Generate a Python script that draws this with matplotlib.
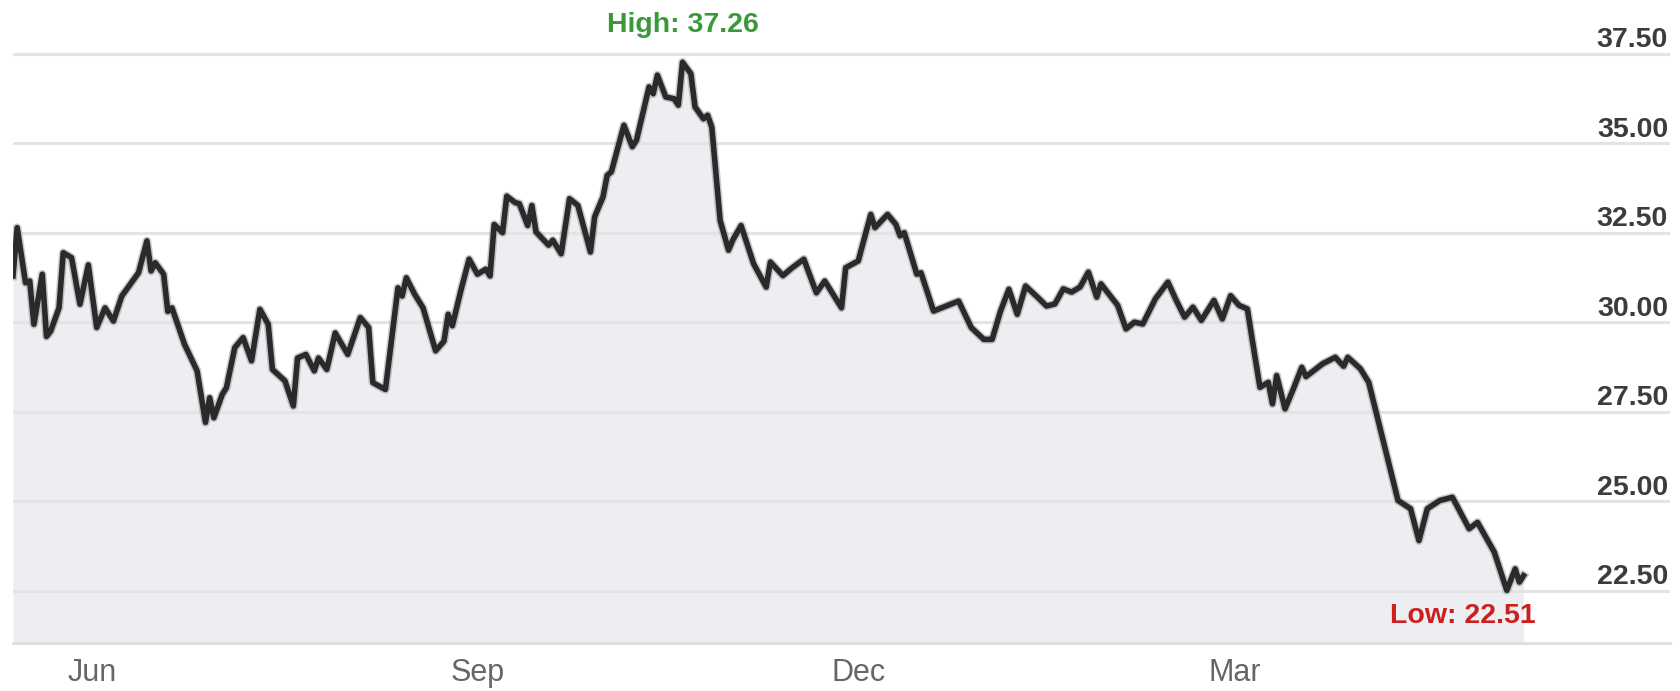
import matplotlib
matplotlib.use('Agg')
import matplotlib.pyplot as plt
import matplotlib.ticker as mticker
import matplotlib.dates as mdates
import matplotlib.patheffects as pe
import matplotlib.font_manager as fm
import pandas as pd

dates = ['2014-05-13', '2014-05-14', '2014-05-16', '2014-05-17', '2014-05-18', '2014-05-20', '2014-05-21', '2014-05-22',
         '2014-05-24', '2014-05-25', '2014-05-27', '2014-05-29', '2014-05-31', '2014-06-02', '2014-06-04', '2014-06-06',
         '2014-06-08', '2014-06-12', '2014-06-14', '2014-06-15', '2014-06-16', '2014-06-18', '2014-06-19', '2014-06-20',
         '2014-06-23', '2014-06-26', '2014-06-28', '2014-06-29', '2014-06-30', '2014-07-02', '2014-07-03', '2014-07-05',
         '2014-07-07', '2014-07-09', '2014-07-11', '2014-07-13', '2014-07-14', '2014-07-17', '2014-07-19', '2014-07-20',
         '2014-07-22', '2014-07-24', '2014-07-25', '2014-07-27', '2014-07-29', '2014-08-01', '2014-08-04', '2014-08-06',
         '2014-08-07', '2014-08-10', '2014-08-13', '2014-08-14', '2014-08-15', '2014-08-17', '2014-08-19', '2014-08-22',
         '2014-08-24', '2014-08-25', '2014-08-26', '2014-08-28', '2014-08-30', '2014-09-01', '2014-09-03', '2014-09-04',
         '2014-09-05', '2014-09-07', '2014-09-08', '2014-09-10', '2014-09-11', '2014-09-13', '2014-09-14', '2014-09-15',
         '2014-09-18', '2014-09-19', '2014-09-21', '2014-09-23', '2014-09-25', '2014-09-28', '2014-09-29', '2014-10-01',
         '2014-10-02', '2014-10-03', '2014-10-06', '2014-10-08', '2014-10-09', '2014-10-12', '2014-10-13', '2014-10-14',
         '2014-10-16', '2014-10-18', '2014-10-19', '2014-10-20', '2014-10-22', '2014-10-23', '2014-10-25', '2014-10-26',
         '2014-10-27', '2014-10-29', '2014-10-31', '2014-11-01', '2014-11-03', '2014-11-06', '2014-11-09', '2014-11-10',
         '2014-11-13', '2014-11-15', '2014-11-18', '2014-11-21', '2014-11-23', '2014-11-27', '2014-11-28', '2014-12-01',
         '2014-12-04', '2014-12-05', '2014-12-08', '2014-12-10', '2014-12-11', '2014-12-12', '2014-12-15', '2014-12-16',
         '2014-12-19', '2014-12-25', '2014-12-28', '2014-12-31', '2015-01-02', '2015-01-04', '2015-01-06', '2015-01-08',
         '2015-01-10', '2015-01-13', '2015-01-15', '2015-01-17', '2015-01-19', '2015-01-21', '2015-01-23', '2015-01-25',
         '2015-01-27', '2015-01-28', '2015-02-01', '2015-02-03', '2015-02-05', '2015-02-07', '2015-02-10', '2015-02-13',
         '2015-02-15', '2015-02-17', '2015-02-19', '2015-02-21', '2015-02-24', '2015-02-26', '2015-02-28', '2015-03-02',
         '2015-03-04', '2015-03-05', '2015-03-07', '2015-03-09', '2015-03-10', '2015-03-11', '2015-03-13', '2015-03-15',
         '2015-03-17', '2015-03-18', '2015-03-22', '2015-03-25', '2015-03-27', '2015-03-28', '2015-03-31', '2015-04-02',
         '2015-04-09', '2015-04-12', '2015-04-14', '2015-04-16', '2015-04-19', '2015-04-22', '2015-04-26', '2015-04-28',
         '2015-05-02', '2015-05-05', '2015-05-07', '2015-05-08', '2015-05-09']

prices = [31.29, 32.64, 31.10, 31.15, 29.94, 31.34, 29.60, 29.75,
          30.40, 31.94, 31.80, 30.50, 31.60, 29.85, 30.40, 30.03,
          30.73, 31.38, 32.27, 31.43, 31.66, 31.34, 30.30, 30.40,
          29.38, 28.64, 27.20, 27.89, 27.33, 27.98, 28.17, 29.29,
          29.57, 28.92, 30.36, 29.94, 28.68, 28.36, 27.66, 29.00,
          29.10, 28.64, 29.00, 28.68, 29.70, 29.10, 30.13, 29.85,
          28.31, 28.12, 30.96, 30.73, 31.24, 30.78, 30.40, 29.20,
          29.47, 30.22, 29.90, 30.87, 31.76, 31.34, 31.48, 31.29,
          32.73, 32.50, 33.52, 33.34, 33.31, 32.70, 33.26, 32.52,
          32.15, 32.29, 31.91, 33.45, 33.26, 31.96, 32.94, 33.50,
          34.10, 34.20, 35.50, 34.90, 35.08, 36.57, 36.38, 36.90,
          36.29, 36.24, 36.06, 37.26, 36.94, 36.01, 35.68, 35.78,
          35.45, 32.84, 32.01, 32.29, 32.70, 31.63, 30.98, 31.68,
          31.30, 31.50, 31.76, 30.82, 31.15, 30.40, 31.52, 31.71,
          33.01, 32.64, 33.01, 32.73, 32.41, 32.50, 31.34, 31.38,
          30.31, 30.59, 29.85, 29.52, 29.52, 30.31, 30.92, 30.22,
          31.01, 30.68, 30.45, 30.51, 30.93, 30.84, 30.98, 31.40,
          30.70, 31.07, 30.47, 29.81, 30.00, 29.95, 30.65, 31.12,
          30.61, 30.14, 30.42, 30.05, 30.61, 30.09, 30.74, 30.47,
          30.37, 29.63, 28.18, 28.32, 27.72, 28.51, 27.58, 28.14,
          28.74, 28.48, 28.84, 29.02, 28.77, 29.02, 28.70, 28.32,
          25.02, 24.79, 23.90, 24.79, 25.02, 25.11, 24.23, 24.41,
          23.58, 22.51, 23.11, 22.74, 22.92]

price_ticks = [22.5, 25.0, 27.5, 30.0, 32.5, 35.0, 37.5]
month_ticks = ['2014-06-01', '2014-09-01', '2014-12-01', '2015-03-01']

x = pd.to_datetime(dates)
hi = prices.index(max(prices))
lo = prices.index(min(prices))

# narrowest sans available
names = {f.name for f in fm.fontManager.ttflist}
if 'Liberation Sans Narrow' in names:
    font = 'Liberation Sans Narrow'
else:
    font = 'Liberation Sans'
narrow = [font, 'DejaVu Sans']

fig = plt.figure(figsize=(16.81, 6.91), dpi=100)
ax = fig.add_axes([13 / 1681, 48 / 691, 1657 / 1681, 603.7 / 691])

ax.fill_between(x, prices, 21.04, color='#eceef1', lw=0, zorder=1)
for v in price_ticks:
    ax.axhline(v, color='#e4e4e4', lw=2.2, zorder=2)
ax.plot(x, prices, color='#2a2a2a', lw=4.0, solid_joinstyle='round', zorder=3,
        path_effects=[pe.Stroke(linewidth=6.2, foreground='#8a8a8a', alpha=0.45), pe.Normal()])

ax.set_xlim(pd.Timestamp('2014-05-13'), pd.Timestamp('2015-06-13'))
ax.set_ylim(21.04, 37.9)

for s in ['top', 'left', 'right']:
    ax.spines[s].set_visible(False)
ax.spines['bottom'].set_color('#e0e0e0')
ax.spines['bottom'].set_linewidth(2.2)

ax.set_yticks([])
ax.xaxis.set_major_locator(mticker.FixedLocator(mdates.date2num(pd.to_datetime(month_ticks))))
ax.xaxis.set_major_formatter(mdates.DateFormatter('%b'))
ax.tick_params(axis='x', length=0, pad=11, labelsize=22, labelcolor='#666666')
for lbl in ax.get_xticklabels():
    lbl.set_family(narrow)

for v in price_ticks:
    ax.annotate(f'{v:.2f}', xy=(0.9988, v), xycoords=('axes fraction', 'data'),
                xytext=(0, 4.5), textcoords='offset points', ha='right', va='baseline',
                fontsize=20.5, color='#3c3c3c', family=narrow, fontweight='bold')

ax.annotate(f'High: {prices[hi]:.2f}', xy=(x[hi], prices[hi]), xytext=(0, 27),
            textcoords='offset points', ha='center', va='center',
            fontsize=20.5, color='#3a9a3a', fontweight='bold', family=narrow)
ax.annotate(f'Low: {prices[lo]:.2f}', xy=(x[lo], prices[lo]), xytext=(-32, -18.5),
            textcoords='offset points', ha='center', va='center',
            fontsize=20.5, color='#cc2020', fontweight='bold', family=narrow)

fig.savefig('out.png', dpi=100)
